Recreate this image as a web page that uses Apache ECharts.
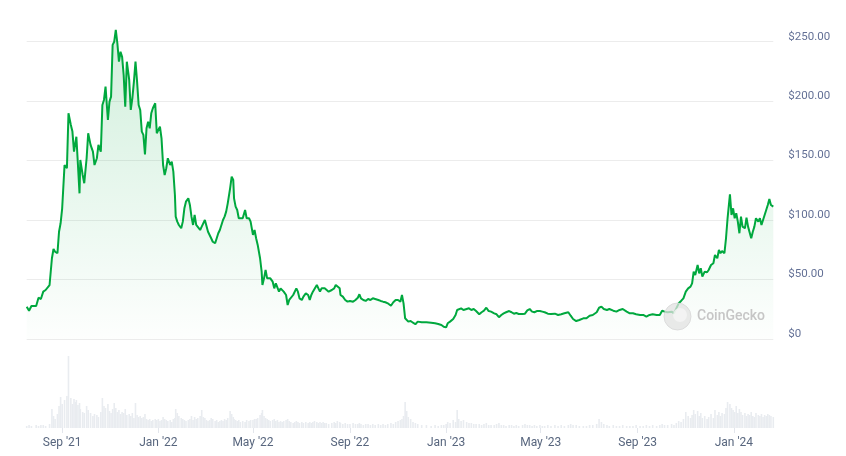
<!DOCTYPE html>
<html>
<head>
<meta charset="utf-8">
<script src="https://cdn.jsdelivr.net/npm/echarts@6/dist/echarts.min.js"></script>
<style>
html,body{margin:0;padding:0;background:#fff;}
#chart{width:846px;height:456px;}
</style>
</head>
<body>
<div id="chart"></div>
<script>
// ---- DATA ----
const startDate = '2021-07-01';
// day offsets from startDate for each price / volume sample
const dayOffsets = [17,20,23,29,32,35,38,41,46,49,51,53,56,58,60,62,65,68,70,73,75,77,79,80,82,84,85,88,90,93,95,98,101,103,106,108,111,113,115,117,120,122,124,126,128,130,132,134,136,138,140,142,144,147,149,151,153,155,157,159,161,163,165,167,169,171,173,175,177,180,182,184,186,188,190,192,194,196,199,201,203,205,206,208,210,213,215,217,219,222,224,226,228,230,232,234,237,239,241,243,245,247,249,251,253,256,258,260,262,264,266,268,270,272,275,277,279,280,282,284,286,288,291,294,296,299,301,304,306,308,310,313,315,316,318,320,322,324,326,329,331,333,335,337,339,341,343,346,348,350,352,355,357,359,361,363,366,368,371,374,376,378,380,382,385,387,389,391,393,395,397,400,404,407,409,411,414,415,418,421,424,427,431,434,437,439,441,444,447,450,453,456,459,463,466,469,472,475,479,482,485,488,491,493,495,497,499,501,504,507,510,513,518,524,530,535,539,543,546,549,551,554,558,561,563,565,568,571,575,578,581,584,587,591,594,597,600,603,606,610,613,616,619,622,625,629,632,635,638,641,646,649,652,655,658,661,664,668,671,674,678,682,687,691,695,699,704,707,710,714,718,723,727,731,735,740,743,746,749,753,756,761,765,769,773,778,782,786,790,795,799,803,807,811,816,820,823,826,830,835,838,841,844,847,850,853,856,859,861,863,865,868,870,872,874,877,880,882,885,888,890,893,895,897,899,902,904,906,909,911,913,915,917,919,921,923,925,928,930,932,934,936,938,940,942,945,947,949,951,953,955,957,959,961,964];
// price in USD
const prices = [27.2,23.8,27.8,27.8,34.7,33.6,39.8,41.2,45.4,67.9,75.7,73.4,72.1,90.2,97.3,109.9,146.3,143.6,189.8,180,174.4,157.5,156.2,170.1,146.3,122.5,150.5,137.9,131,152,173,163.2,157.5,146.3,152,163.2,157.5,196.8,201,212.2,184.2,199.6,203.8,247.3,250,259.9,248.7,233.2,241.6,237.4,222,195.4,233.2,218,192.6,202.4,216.4,233.2,216.4,196.8,192.6,174.4,171.6,155.3,177.2,182.8,177.2,189.8,194,198.2,173,171.6,178.6,168.8,146.3,137.9,143.6,152,146.3,149.1,140.7,121.1,102.9,98.7,95.9,93.1,98.7,109.9,115.5,118.3,112.7,102.9,95.9,104.3,95.9,97.3,91.7,94.5,93.1,100.1,100.1,90.2,88.9,84.7,81.8,80.5,84.7,88.9,91.7,93.1,100.1,102.9,107.1,114.1,126.7,136.5,133.7,118.3,111.3,108.5,101.5,102.9,101.5,108.5,101.5,101.5,98.7,87.5,91.7,84.7,79.1,67.9,56.6,45.4,51,58,51,52.4,51,48.2,42.6,46.8,45.4,39.8,42.6,41.2,39.8,37,28.6,32.8,34.2,37,37,42.6,39.8,34.2,32.8,35.6,38.4,37,32.8,37,39.8,41.2,45.4,42.6,39.8,42.6,44,42.6,41.2,39.8,41.2,42.6,45.4,46.8,42.6,37,35.6,32.8,31.4,32,31.4,32.8,34.7,37.6,34.2,32.8,32,33.6,32.8,34.2,33.6,32.8,32,31.4,30.9,30,28,30.9,32.8,32.8,31.4,37,30,17.4,16,14.6,15.1,13.7,12.4,14.6,14,14,13.7,13.2,12.6,11.8,10.3,9.8,13.2,14.6,16.8,20.2,24.4,23,25.8,24.4,25.2,25.8,24.4,25.2,23.5,20.8,22.5,23.8,26.3,23.5,23,21.6,20.8,18.3,20.2,21.6,22.5,23.5,22.5,21.3,21.9,21,21,21.3,24.1,25.2,23,22.5,23.5,23.5,23,22.5,21.3,21,21.3,20.2,20.8,21.6,22.5,19.6,16.8,15.1,16,17.4,17.4,19.6,20.2,22.5,26.3,27.2,25.2,24.4,25.2,23.8,23,24.4,25.2,23,21.6,21.6,20.8,20.2,20.2,18.8,20.2,20.8,20.2,20.2,23.8,23,22.5,23,21.6,25.8,30,32,34.2,39.8,42.6,44,46.8,56.6,53.8,62.2,55.2,59.5,52.4,56.6,56.1,58,62.2,63.7,70.6,67.9,74.9,72.1,74,72.1,84.7,101.5,121.7,104.3,109.9,101.5,105.7,98.7,88.9,102.9,94.5,93.1,102,94.5,93.1,84.7,90.2,94.5,101.5,98.7,101.5,95.9,96.5,104.3,108.5,112.7,117.7,112.7,111.3];
// traded volume, billions USD
const volumes = [0.2,0.3,0.2,0.3,0.2,0.3,0.3,0.2,0.4,1.9,1.2,0.9,1.4,2.2,3.1,2.4,2.8,3.2,7.2,3.0,2.4,2.9,2.6,2.8,2.3,2.5,1.9,1.6,1.5,2.2,1.8,1.5,1.2,1.4,1.3,1.1,1.6,3.0,2.2,2.0,2.4,1.7,1.5,1.9,2.5,2.0,1.6,1.8,1.4,1.6,1.5,1.9,1.3,1.4,1.2,1.5,1.0,2.5,1.3,1.1,1.2,1.0,1.1,1.4,0.9,0.8,0.9,0.7,0.8,0.9,0.8,0.9,0.7,0.8,1.1,0.9,0.8,0.7,0.8,0.6,0.9,1.0,1.9,1.5,1.2,1.0,0.9,0.8,0.7,0.8,0.9,1.2,0.8,1.1,0.9,1.0,1.2,1.8,1.1,1.0,0.8,0.7,0.8,1.0,0.9,0.7,0.8,0.6,0.7,0.8,0.7,0.9,0.8,1.0,1.7,1.4,1.1,0.9,0.8,0.7,0.8,0.6,0.7,0.6,0.8,0.7,0.8,0.8,0.9,0.9,1.0,1.3,1.5,1.8,1.2,1.0,0.9,0.8,0.7,0.8,0.9,0.7,0.8,0.6,0.7,0.6,0.7,0.8,0.9,0.7,0.6,0.5,0.6,0.7,0.6,0.5,0.6,0.5,0.6,0.5,0.6,0.5,0.6,0.7,0.6,0.5,0.6,0.5,0.6,0.5,0.5,0.4,0.5,0.6,0.5,0.7,0.6,0.5,0.4,0.5,0.4,0.4,0.5,0.4,0.4,0.5,0.4,0.3,0.4,0.4,0.3,0.4,0.3,0.4,0.3,0.4,0.3,0.4,0.5,0.4,0.6,0.7,0.8,0.9,1.2,2.6,1.7,1.1,0.9,0.6,0.5,0.4,0.3,0.3,0.2,0.3,0.2,0.3,0.3,0.4,0.6,0.5,0.8,0.6,1.8,0.9,0.7,0.8,0.6,0.5,0.5,0.4,0.4,0.4,0.3,0.4,0.5,0.3,0.3,0.3,0.4,0.5,0.3,0.3,0.2,0.3,0.3,0.2,0.3,0.2,0.3,0.4,0.3,0.3,0.2,0.3,0.2,0.3,0.2,0.2,0.3,0.2,0.3,0.2,0.3,0.2,0.3,0.4,0.3,0.3,0.2,0.2,0.2,0.3,0.3,0.4,0.9,0.6,0.4,0.3,0.2,0.3,0.2,0.2,0.3,0.2,0.2,0.2,0.3,0.2,0.2,0.3,0.2,0.3,0.2,0.3,0.4,0.3,0.3,0.4,0.3,0.5,0.7,0.6,0.9,1.6,1.2,1.0,1.3,1.8,1.4,1.7,1.2,1.5,1.0,1.2,0.9,1.1,1.4,1.0,1.8,1.3,1.6,1.2,1.5,1.4,2.0,2.6,2.4,2.0,1.8,1.6,2.2,1.5,1.9,1.6,1.3,1.5,1.2,1.4,1.3,1.6,1.2,1.1,1.5,1.3,1.2,1.4,1.1,1.3,1.2,1.4,1.3,1.2,1.1];
// x-axis ticks
const tickDates = ['2021-09-01','2022-01-01','2022-05-01','2022-09-01','2023-01-01','2023-05-01','2023-09-01','2024-01-01'];
const tickLabels = ["Sep '21","Jan '22","May '22","Sep '22","Jan '23","May '23","Sep '23","Jan '24"];
// y-axis ticks
const priceTicks = [0,50,100,150,200,250];

// ---- build ----
const DAY = 86400000;
const t0 = Date.parse(startDate + 'T00:00:00Z');
const times = dayOffsets.map(d => t0 + d * DAY);
const priceData = times.map((t, i) => [t, prices[i]]);
const volData = times.map((t, i) => [t, volumes[i]]);
const tickTimes = tickDates.map(s => Date.parse(s + 'T00:00:00Z'));
const xMin = times[0], xMax = times[times.length - 1];
function tickLabel(v) {
  let best = 0, bd = Infinity;
  tickTimes.forEach((t, i) => { const d = Math.abs(t - v); if (d < bd) { bd = d; best = i; } });
  return tickLabels[best];
}
const FONT = 'Roboto, "Liberation Sans", sans-serif';
const chart = echarts.init(document.getElementById('chart'), null, {renderer: 'canvas'});
chart.setOption({
  animation: false,
  backgroundColor: '#ffffff',
  grid: [
    {left: 26.7, right: 72.7, top: 41.7, bottom: 117},
    {left: 26.7, right: 72.7, top: 348, bottom: 28}
  ],
  xAxis: [
    {type: 'value', gridIndex: 0, min: xMin, max: xMax, scale: true,
     axisLine: {show: false}, axisTick: {show: false}, axisLabel: {show: false}, splitLine: {show: false}},
    {type: 'value', gridIndex: 1, min: xMin, max: xMax, scale: true,
     axisLine: {show: false},
     axisTick: {show: true, customValues: tickTimes, length: 5, lineStyle: {color: '#e3e6ec', width: 1}},
     axisLabel: {show: true, customValues: tickTimes, formatter: v => tickLabel(v),
                 color: '#58667e', fontSize: 12, fontFamily: FONT, margin: 9, hideOverlap: false},
     splitLine: {show: false}}
  ],
  yAxis: [
    {type: 'value', gridIndex: 0, position: 'right', min: 0, max: 250, interval: 50,
     axisLine: {show: false}, axisTick: {show: false},
     axisLabel: {color: '#647196', fontSize: 11.5, fontFamily: FONT, margin: 15,
                 verticalAlign: 'bottom', lineHeight: 10,
                 formatter: v => v === 0 ? '$0' : '$' + v.toFixed(2)},
     splitLine: {show: true, lineStyle: {color: '#ececec', width: 1}}},
    {type: 'value', gridIndex: 1, min: 0, max: 8, show: false, splitLine: {show: false}}
  ],
  series: [
    {type: 'bar', xAxisIndex: 1, yAxisIndex: 1, data: volData, barWidth: 1.6,
     itemStyle: {color: '#e9ecf0'}, silent: true},
    {type: 'line', xAxisIndex: 0, yAxisIndex: 0, data: priceData, showSymbol: false, clip: false,
     lineStyle: {color: '#00a83e', width: 2}, itemStyle: {color: '#00a83e'},
     areaStyle: {color: new echarts.graphic.LinearGradient(0, 0, 0, 1, [
       {offset: 0, color: 'rgba(0,168,62,0.26)'},
       {offset: 1, color: 'rgba(0,168,62,0.01)'}
     ])}}
  ],
  graphic: [
    {type: 'circle', shape: {cx: 677.5, cy: 316.5, r: 13.5}, z: 100,
     style: {fill: 'rgba(225,225,225,0.75)', stroke: 'rgba(215,215,215,0.8)', lineWidth: 1}},
    {type: 'circle', shape: {cx: 680, cy: 315, r: 7}, z: 101,
     style: {fill: 'rgba(245,245,245,0.8)'}},
    {type: 'text', x: 697, y: 316.5, z: 100,
     style: {text: 'CoinGecko', fill: '#c6c6c6', font: '500 14px ' + FONT, textVerticalAlign: 'middle'}}
  ]
});
</script>
</body>
</html>
